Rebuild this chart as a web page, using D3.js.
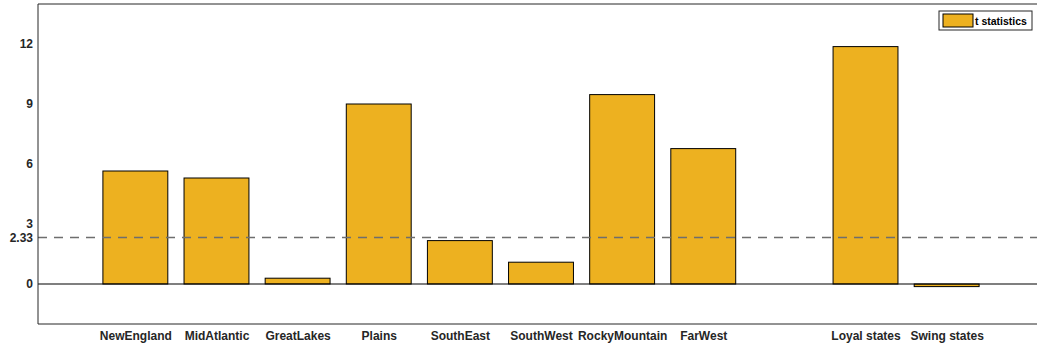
<!DOCTYPE html>
<html>
<head>
<meta charset="utf-8">
<script src="https://cdn.jsdelivr.net/npm/d3@7"></script>
<style>
  body { margin: 0; background: #fff; }
  svg { display: block; font-family: "Liberation Sans", Arial, Helvetica, sans-serif; }
</style>
</head>
<body>
<svg id="chart" width="1037" height="350"></svg>
<script>
// Regional t statistics; an empty slot separates regions from the state groups
const categories = ["NewEngland", "MidAtlantic", "GreatLakes", "Plains", "SouthEast",
  "SouthWest", "RockyMountain", "FarWest", "", "Loyal states", "Swing states"];
const tStats = [5.65, 5.3, 0.29, 9.0, 2.17, 1.09, 9.47, 6.77, 0, 11.87, -0.13];
const yTicks = [0, 2.33, 3, 6, 9, 12];
const yTickLabels = ["0", "2.33", "3", "6", "9", "12"];
const threshold = 2.33;
const seriesName = "t statistics";

const svg = d3.select("#chart");
const plotLeft = 38, plotTop = 4, plotBottom = 324, plotRight = 1044;

const x = d3.scaleLinear().domain([-0.2, categories.length + 1.2]).range([plotLeft, plotRight]);
const y = d3.scaleLinear().domain([-2, 14]).range([plotBottom, plotTop]);
const barW = x(0.8) - x(0);

// Bars
svg.append("g").selectAll("rect")
  .data(tStats)
  .join("rect")
  .attr("x", (d, i) => x(i + 1) - barW / 2)
  .attr("width", barW)
  .attr("y", d => y(Math.max(0, d)))
  .attr("height", d => Math.abs(y(d) - y(0)))
  .attr("fill", "#EDB120")
  .attr("stroke", "#000")
  .attr("stroke-width", 1);

// Zero baseline
svg.append("line")
  .attr("x1", plotLeft).attr("x2", plotRight)
  .attr("y1", y(0)).attr("y2", y(0))
  .attr("stroke", "#000").attr("stroke-width", 1.2);

// Threshold line
svg.append("line")
  .attr("x1", plotLeft).attr("x2", plotRight)
  .attr("y1", y(threshold)).attr("y2", y(threshold))
  .attr("stroke", "#6e6e6e").attr("stroke-width", 1.5)
  .attr("stroke-dasharray", "9,7");

// Axes
const yAxis = d3.axisLeft(y).tickValues(yTicks)
  .tickFormat((d, i) => yTickLabels[i]).tickSize(0).tickPadding(5);
const gy = svg.append("g").attr("transform", `translate(${plotLeft},0)`).call(yAxis);
gy.select(".domain").remove();
gy.selectAll("text").attr("font-size", 12).attr("font-weight", "bold").attr("fill", "#262626")
  .attr("font-family", "'Liberation Sans', Arial, sans-serif");

const xAxis = d3.axisBottom(x).tickValues(d3.range(1, categories.length + 1))
  .tickFormat(d => categories[d - 1]).tickSize(0).tickPadding(7);
const gx = svg.append("g").attr("transform", `translate(0,${plotBottom})`).call(xAxis);
gx.select(".domain").remove();
gx.selectAll("text").attr("font-size", 12).attr("font-weight", "bold").attr("fill", "#262626")
  .attr("font-family", "'Liberation Sans', Arial, sans-serif");

// Frame: left, top and bottom edges
svg.append("path")
  .attr("d", `M${plotRight},${plotTop}H${plotLeft}V${plotBottom}H${plotRight}`)
  .attr("fill", "none").attr("stroke", "#262626").attr("stroke-width", 1);

// Legend
const lg = svg.append("g").attr("transform", "translate(939,11)");
lg.append("rect").attr("width", 93).attr("height", 19)
  .attr("fill", "#fff").attr("stroke", "#262626").attr("stroke-width", 1);
lg.append("rect").attr("x", 4).attr("y", 3).attr("width", 30).attr("height", 13)
  .attr("fill", "#EDB120").attr("stroke", "#000").attr("stroke-width", 1);
lg.append("text").attr("x", 36).attr("y", 13.5)
  .attr("font-size", 10.5).attr("font-weight", "bold").attr("fill", "#000")
  .text(seriesName);
</script>
</body>
</html>
